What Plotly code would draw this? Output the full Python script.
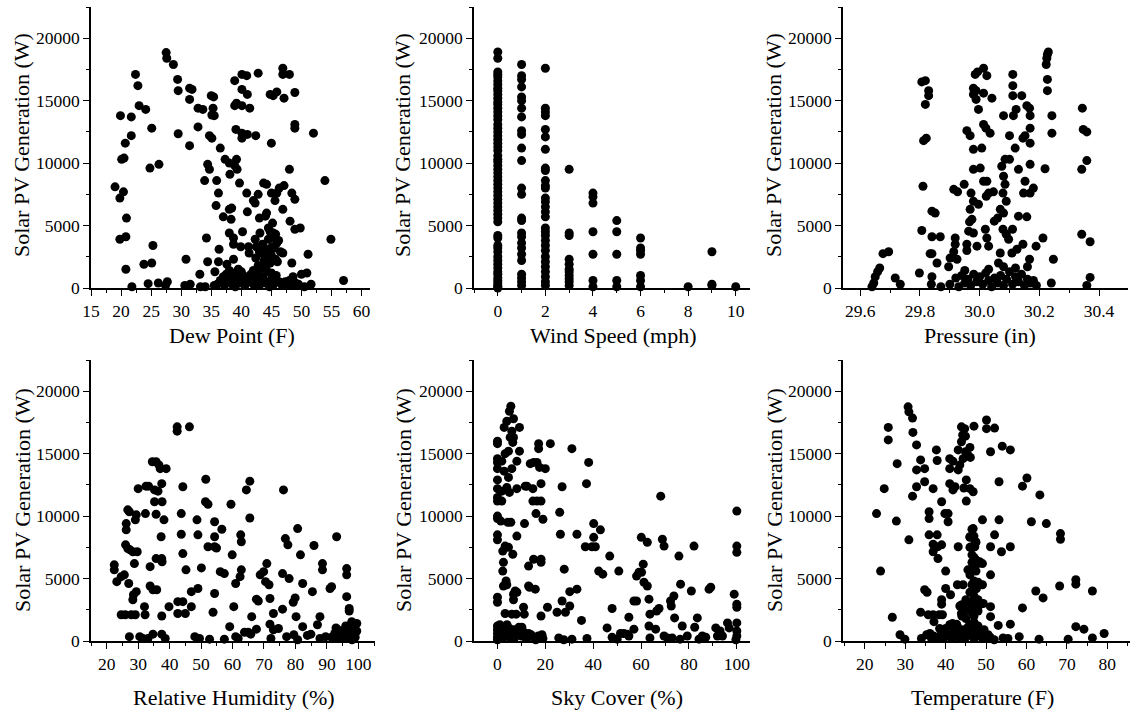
import plotly.graph_objects as go

# ---------------- Data ----------------
dew_x = [19.0, 19.9, 19.8, 20.4, 20.1, 20.5, 20.7, 19.8, 20.8, 20.9, 20.8, 21.8, 21.7, 21.7, 22.4, 22.8, 23.0,
         24.1, 23.8, 25.1, 24.8, 25.3, 25.1, 24.5, 26.3, 26.2, 27.5, 27.6, 27.7, 27.4, 28.7, 29.4, 29.5, 29.5,
         30.8, 31.4, 31.8, 31.4, 31.4, 31.5, 30.6, 32.8, 32.8, 33.6, 33.1, 33.2, 33.9, 34.2, 34.4, 34.7, 34.7,
         35.1, 35.0, 35.4, 35.3, 35.1, 35.5, 34.4, 35.8, 35.6, 35.9, 36.2, 36.3, 36.5, 36.2, 37.3, 37.0, 37.6,
         38.0, 38.0, 38.4, 38.1, 38.3, 38.0, 38.7, 38.9, 38.9, 39.2, 39.1, 39.2, 39.3, 38.9, 38.7, 38.7, 39.7,
         39.5, 39.9, 40.1, 40.1, 40.1, 40.1, 40.1, 40.2, 40.9, 41.0, 40.9, 41.0, 41.0, 41.4, 41.2, 41.3, 42.0,
         42.3, 42.4, 42.8, 42.8, 42.3, 42.4, 43.0, 43.1, 43.2, 43.7, 44.2, 44.0, 44.2, 44.5, 44.5, 43.7, 44.2,
         44.8, 45.0, 45.0, 45.6, 45.3, 45.9, 45.9, 46.3, 45.3, 45.6, 45.9, 45.1, 44.8, 45.7, 45.0, 46.9, 46.9,
         47.1, 47.1, 46.9, 46.9, 47.3, 48.0, 48.0, 48.1, 48.4, 48.9, 48.9, 48.9, 48.9, 48.4, 48.9, 49.8, 48.6,
         50.0, 50.9, 51.1, 52.0, 51.6, 53.9, 54.9, 57.0,
         36.0, 36.5, 37.0, 37.2, 37.5, 37.8, 38.2, 38.5, 38.8, 39.0, 39.5, 40.0, 40.3, 40.6, 41.0, 41.3, 41.6,
         42.0, 42.3, 42.6, 43.0, 43.3, 43.6, 44.0, 44.3, 44.7, 45.0, 45.4, 45.8, 46.3, 46.8, 47.5, 48.0, 48.5,
         49.0, 49.5, 50.5, 35.5, 34.0, 38.0, 40.0, 42.0, 44.0, 43.0,
         42.5, 43.0, 43.5, 44.0, 44.5, 45.0, 45.5, 46.0, 44.3, 43.8, 42.8, 46.5, 45.2, 44.8, 45.7, 46.2]
dew_pv = [8100, 13800, 7200, 7700, 10300, 10400, 11600, 3900, 4100, 5600, 1500, 100, 13700, 12200, 17100, 16200, 14600,
          14300, 1900, 12800, 9600, 3400, 2000, 350, 9900, 400, 18850, 18400, 500, 200, 17900, 16700, 15800, 12350,
          2300, 16000, 15900, 15100, 11400, 300, 200, 14400, 12900, 14300, 1100, 100, 8600, 4000, 9900, 9500, 12200,
          12000, 15400, 15300, 14400, 13850, 13800, 2100, 6600, 1300, 8600, 7600, 3100, 11200, 2100, 10300, 5700, 1900,
          10000, 6300, 6400, 9100, 5500, 4400, 4000, 16600, 14600, 14800, 12700, 10300, 9500, 9800, 2300, 3500, 8400,
          1500, 3300, 17100, 15900, 14600, 12400, 12000, 4500, 7600, 6100, 17000, 15500, 12300, 14400, 3300, 2800, 7000,
          6800, 12200, 17200, 7500, 3900, 2400, 5600, 4400, 2800, 8400, 8300, 5750, 6000, 4800, 3900, 3300, 2800,
          15500, 11600, 7600, 7000, 15400, 15700, 7600, 8000, 4400, 4000, 3600, 3300, 2000, 2300, 1200, 17600, 17100,
          15200, 8200, 6300, 2800, 500, 17100, 9500, 5350, 7600, 7100, 15650, 13100, 12800, 2000, 4700, 4800, 900,
          1100, 1200, 2700, 12400, 300, 8600, 3900, 600,
          300, 600, 900, 200, 1100, 500, 800, 300, 1200, 100, 700, 400, 1000, 200, 800, 500, 1100,
          300, 700, 1000, 200, 600, 900, 400, 1300, 100, 700, 300, 1000, 500, 200, 300, 600, 200,
          400, 300, 100, 200, 100, 1400, 1300, 1400, 1600, 1500,
          3300, 2900, 3500, 2500, 3000, 2600, 3200, 2100, 1900, 2200, 1800, 2900, 5200, 4500, 4300, 3800]

wind_x = [0] * 61 + [1] * 26 + [2] * 30 + [3] * 11 + [4] * 7 + [5] * 5 + [6] * 7 + [8] + [9] * 3 + [10]
wind_pv = [18900, 18400, 17300, 17100, 16900, 16600, 16300, 16000, 15800, 15500, 15200, 14900, 14700, 14400, 14100,
           13800, 13500, 13100, 12800, 12500, 12200, 11900, 11600, 11300, 11000, 10600, 10300, 10100, 9800, 9500,
           9200, 8900, 8600, 8300, 8000, 7700, 7400, 7100, 6800, 6500, 6200, 5900, 5600, 5300, 4200, 4000, 3400,
           3200, 2900, 2500, 2200, 1900, 1600, 1300, 1100, 800, 600, 400, 200, 100, 0,
           17900, 17000, 16700, 16100, 15300, 15000, 14400, 13700, 12600, 12300, 11200, 10200, 8000, 7500, 5600,
           5400, 4400, 4100, 3600, 3200, 2700, 2200, 1100, 800, 500, 200,
           17600, 14400, 14100, 13800, 12700, 12100, 11100, 9600, 9400, 8600, 8200, 8000, 7200, 6900, 6500, 6100,
           5700, 4800, 4500, 4200, 3800, 3400, 3000, 2500, 2100, 1700, 1300, 900, 500, 200,
           9500, 4400, 4200, 2300, 1900, 1500, 1300, 1000, 750, 500, 200,
           7600, 7300, 6800, 4500, 2700, 600, 100,
           5400, 4500, 2700, 600, 100,
           4000, 3200, 3000, 2700, 1000, 600, 100,
           100,
           2900, 300, 200,
           100]

press_x = [29.639, 29.645, 29.650, 29.658, 29.665, 29.676, 29.695, 29.717, 29.734, 29.798, 29.806, 29.818, 29.818,
           29.812, 29.821, 29.810, 29.806, 29.829, 29.829, 29.834, 29.840, 29.840, 29.851, 29.840, 29.840, 29.838,
           29.857, 29.868, 29.870, 29.913, 29.926, 29.948, 29.918, 29.918, 29.913, 29.901, 29.896, 29.924, 29.957,
           29.968, 29.979, 29.979, 29.988, 29.988, 29.996, 29.985, 29.993, 30.013, 30.024, 30.013, 30.041, 30.013,
           30.021, 30.035, 29.979, 30.007, 29.979, 30.002, 29.971, 29.979, 29.996, 29.968, 29.974, 29.966, 29.963,
           29.979, 29.991, 29.957, 29.957, 30.013, 30.024, 30.030, 30.046, 30.022, 30.019, 30.024, 30.030, 30.049,
           30.060, 30.069, 30.074, 30.080, 30.085, 30.100, 30.080, 30.085, 30.078, 30.089, 30.080, 30.078, 30.089,
           30.097, 30.069, 30.063, 30.100, 30.111, 30.111, 30.111, 30.113, 30.122, 30.119, 30.130, 30.110, 30.108,
           30.125, 30.130, 30.141, 30.145, 30.152, 30.152, 30.147, 30.145, 30.158, 30.158, 30.167, 30.169, 30.169,
           30.169, 30.169, 30.169, 30.167, 30.160, 30.180, 30.189, 30.212, 30.223, 30.227, 30.230, 30.225, 30.227,
           30.227, 30.219, 30.242, 30.242, 30.247, 30.240, 30.344, 30.347, 30.359, 30.359, 30.342, 30.342, 30.370,
           30.370, 30.359,
           29.90, 29.92, 29.93, 29.94, 29.95, 29.96, 29.97, 29.98, 29.99, 30.00, 30.01, 30.02, 30.03, 30.04, 30.05,
           30.06, 30.07, 30.08, 30.09, 30.10, 30.11, 30.12, 30.13, 30.14, 30.15, 30.16, 30.17, 30.18, 30.19, 29.95,
           30.03, 30.12, 30.08]
press_pv = [100, 400, 900, 1300, 1600, 2750, 2900, 800, 300, 1200, 16500, 16600, 14700, 11800, 12000, 8150, 4600,
            15800, 15400, 2750, 2750, 6150, 6000, 4100, 900, 300, 2000, 4100, 100, 7900, 7700, 8300, 4000, 3500,
            2900, 2400, 1700, 2300, 12600, 12200, 16000, 15500, 15800, 15100, 14300, 17100, 17300, 17600, 17000,
            15600, 15200, 13100, 12800, 12400, 11100, 11200, 9500, 9600, 7600, 6950, 6700, 6300, 5500, 5300, 4550,
            4400, 3350, 3500, 3000, 8550, 8550, 7600, 7700, 7350, 4700, 4000, 3350, 5350, 5600, 6300, 9750, 13800,
            10300, 10300, 8950, 8300, 7600, 6950, 6000, 4700, 4300, 3900, 2800, 2000, 12200, 17100, 16200, 15400,
            13800, 14300, 11200, 9500, 4700, 2800, 3100, 5750, 15400, 12000, 12200, 8550, 7600, 3500, 5700, 14600,
            14400, 13800, 12800, 11600, 9900, 7600, 2300, 1700, 8000, 3350, 4000, 17900, 18700, 18900, 18400, 16700,
            15800, 9550, 13800, 12400, 2300, 400, 14400, 12700, 12500, 10200, 9500, 4300, 3700, 850, 200,
            300, 800, 100, 1000, 400, 700, 200, 1100, 500, 900, 300, 1200, 600, 100, 800,
            400, 1000, 200, 700, 1300, 300, 900, 500, 1100, 200, 700, 400, 600, 200, 1400,
            1500, 1600, 1700]

rh_x = [22.4, 22.4, 23.2, 24.6, 25.6, 24.6, 25.9, 26.2, 26.2, 26.7, 27.2, 26.0, 26.7, 27.4, 27.0, 27.2, 27.8, 28.3,
        28.8, 28.5, 28.3, 29.4, 29.4, 29.1, 29.7, 29.1, 30.0, 30.5, 31.5, 32.3, 32.5, 33.3, 32.0, 32.2, 33.1, 33.8,
        33.8, 34.7, 34.5, 34.7, 35.2, 35.2, 35.7, 35.7, 35.7, 35.9, 36.3, 36.6, 37.0, 37.5, 37.6, 37.3, 37.5, 37.6,
        37.5, 37.5, 38.2, 38.9, 38.6, 39.8, 42.6, 42.6, 42.4, 42.4, 43.7, 43.7, 44.2, 44.2, 44.2, 45.0, 45.2, 46.3,
        46.9, 46.9, 48.0, 48.7, 49.0, 49.0, 49.5, 50.1, 51.5, 51.4, 52.2, 52.2, 52.7, 54.3, 54.3, 54.3, 54.9, 54.3,
        53.8, 56.1, 56.6, 57.4, 57.4, 59.1, 59.5, 59.9, 60.4, 61.0, 61.0, 62.4, 62.6, 62.8, 62.8, 61.8, 64.4, 65.5,
        65.5, 63.8, 65.0, 66.1, 65.8, 67.6, 68.2, 67.6, 68.8, 69.9, 70.9, 70.5, 71.6, 71.9, 71.9, 72.2, 73.0, 73.0,
        74.6, 75.9, 76.2, 75.9, 76.8, 77.6, 78.0, 77.2, 79.5, 79.3, 79.9, 80.2, 80.7, 81.6, 82.3, 82.3, 80.7, 83.8,
        84.9, 85.4, 85.9, 87.0, 87.8, 88.6, 88.6, 87.8, 89.6, 91.0, 91.5, 93.1, 92.9, 96.3, 96.3, 96.3, 97.1, 97.1,
        97.9, 99.5,
        92.5, 93.0, 93.5, 94.0, 94.5, 95.0, 95.5, 96.0, 96.5, 97.0, 97.5, 98.0, 98.5, 99.0, 99.5, 91.5, 96.0, 98.0]
rh_pv = [6100, 5700, 4750, 5150, 5300, 2100, 2100, 8900, 9400, 10500, 10350, 7700, 7400, 7300, 4600, 350, 2100, 7150,
         6200, 3700, 3300, 3950, 10100, 9700, 7150, 2100, 12200, 350, 200, 10200, 12400, 12400, 2750, 2100, 200, 5950,
         4400, 4100, 14350, 550, 12100, 11150, 14350, 10150, 6600, 4100, 12000, 14100, 13800, 12600, 11150, 8350, 6600,
         6350, 2000, 550, 9700, 13800, 200, 2750, 3150, 2200, 17150, 16800, 10200, 8550, 12350, 7000, 3150, 2200, 5700,
         17150, 3950, 2750, 350, 9700, 8500, 4200, 200, 5850, 12950, 11150, 10950, 7550, 150, 9550, 8350, 7550, 7450,
         3800, 2300, 5550, 8950, 5400, 150, 1150, 10950, 6900, 2750, 4600, 350, 5150, 8500, 7950, 5700, 200, 12100,
         12800, 9850, 700, 700, 1950, 550, 3350, 3200, 950, 5300, 5550, 6200, 4750, 4500, 3400, 1350, 200, 2200, 900,
         1000, 2550, 12100, 5400, 8200, 7700, 5000, 350, 500, 3100, 3450, 1950, 9000, 6900, 4600, 1150, 100, 450,
         550, 3950, 7650, 1300, 1950, 6200, 5700, 200, 350, 4200, 4350, 8350, 1050, 5800, 5300, 3550, 2600, 2400,
         1550, 1400,
         600, 300, 900, 500, 200, 800, 400, 1000, 600, 200, 900, 500, 1200, 300, 800, 300, 1200, 100]

sky_x = [1.4, 2.2, 2.5, 2.2, 2.5, 3.6, 3.9, 3.2, 1.8, 1.8, 2.8, 1.8, 3.2, 4.6, 2.8, 3.9, 5.0, 5.6, 5.3, 6.0, 6.7,
         6.4, 6.0, 4.6, 3.9, 5.0, 3.2, 4.6, 5.6, 4.3, 6.4, 6.7, 7.4, 8.1, 6.7, 6.0, 7.8, 8.1, 8.1, 8.1, 9.2, 9.2,
         6.7, 10.2, 10.9, 11.2, 11.3, 11.6, 12.3, 13.0, 13.0, 13.4, 14.0, 13.7, 15.1, 14.8, 14.8, 15.1, 15.8, 16.1,
         16.5, 16.5, 17.2, 17.2, 17.6, 18.2, 18.2, 18.2, 18.2, 18.2, 18.6, 19.0, 20.0, 20.9, 22.1, 24.9, 25.6, 26.0,
         26.3, 27.0, 27.0, 27.7, 27.9, 28.4, 30.2, 30.2, 31.1, 31.1, 33.2, 33.2, 35.1, 36.7, 37.2, 37.4, 38.1, 39.5,
         40.2, 40.2, 40.9, 42.3, 43.0, 44.0, 45.8, 46.9, 47.9, 47.9, 50.0, 50.7, 51.4, 52.8, 54.2, 54.9, 54.9, 57.0,
         57.0, 58.1, 58.1, 59.1, 60.1, 60.2, 60.9, 61.2, 62.6, 62.6, 63.3, 63.3, 63.7, 63.7, 66.1, 66.5, 67.5, 68.2,
         68.9, 69.6, 69.6, 71.0, 72.3, 72.6, 73.0, 73.7, 74.0, 75.8, 76.3, 76.5, 77.2, 79.3, 81.0, 82.1, 82.4, 83.5,
         84.2, 85.6, 87.0, 88.4, 89.1, 91.2, 91.9, 93.0, 94.0, 96.1, 96.8, 98.9, 100, 100, 100, 100, 100, 100, 100,
         100, 99.6,
         0, 0, 0, 0, 0, 1, 1, 2, 2, 3, 3, 4, 5, 5, 6, 7, 7, 8, 9, 10, 11, 12, 13, 15, 16, 17, 19, 4, 1,
         0, 0, 0, 0, 0, 0, 0, 0, 0, 0, 0, 0, 0, 0, 0]
sky_pv = [9600, 7200, 6300, 5600, 4400, 4800, 4500, 2200, 11200, 12000, 13600, 14400, 15000, 15200, 17100, 17600,
          18400, 18800, 16300, 16800, 17800, 15900, 13800, 13100, 12300, 11900, 7600, 7500, 9500, 9500, 6950, 3300,
          4000, 3900, 3750, 2150, 2150, 8400, 12200, 14400, 15200, 17100, 16300, 1100, 2700, 2150, 9400, 12400, 12400,
          6000, 4400, 4300, 500, 14200, 14300, 12200, 11200, 6550, 4150, 10200, 11200, 14300, 15800, 15400, 13900,
          12600, 11200, 6550, 6300, 2000, 500, 9750, 13800, 2700, 15800, 2300, 250, 10300, 8550, 3200, 12350, 100,
          5750, 2300, 2800, 3950, 15400, 150, 4150, 8550, 1650, 7550, 12600, 200, 14300, 7550, 9400, 8300, 7550,
          5600, 8900, 5350, 1050, 6800, 2600, 300, 150, 5600, 600, 600, 550, 1900, 400, 950, 3200, 3200, 5200, 5500,
          8300, 5500, 6150, 4700, 4400, 7900, 3350, 1200, 2150, 250, 950, 2400, 2600, 11600, 8150, 7600, 400, 250,
          3200, 2800, 250, 3600, 1850, 6800, 150, 4550, 1200, 400, 4000, 7600, 1100, 1850, 150, 400, 300, 4150, 4300,
          1050, 400, 800, 400, 1450, 1050, 3750, 10400, 7600, 7100, 2950, 2700, 1450, 800, 400, 100,
          1200, 900, 600, 300, 100, 1000, 500, 800, 200, 1100, 400, 700, 1000, 300, 600, 900, 200, 500, 1100, 400,
          700, 200, 600, 300, 100, 400, 200, 1300, 1300,
          16000, 15800, 14600, 14300, 13800, 12900, 12200, 11500, 11200, 10000, 9800, 8500, 8100, 3500, 3100]

temp_x = [22.9, 23.9, 24.8, 25.8, 25.8, 26.8, 27.8, 28.0, 28.7, 29.9, 30.7, 30.9, 31.8, 31.9, 31.8, 30.9, 32.8, 32.8,
          32.8, 33.8, 33.8, 34.0, 34.8, 34.8, 34.8, 35.4, 35.3, 35.9, 35.9, 35.9, 35.7, 36.1, 36.9, 36.9, 36.9, 36.9,
          37.1, 37.3, 37.7, 37.9, 37.9, 38.0, 38.1, 38.4, 39.0, 39.0, 39.0, 39.2, 39.0, 39.8, 40.0, 40.0, 40.6, 40.6,
          41.0, 41.0, 41.2, 41.0, 41.8, 41.8, 42.3, 42.9, 43.1, 42.7, 43.1, 43.1, 43.5, 43.9, 43.9, 44.2, 44.3, 44.5,
          44.7, 44.9, 44.9, 45.1, 45.1, 45.5, 46.0, 46.1, 46.0, 46.8, 47.0, 46.8, 46.0, 46.4, 47.4, 47.2, 49.1, 50.1,
          50.1, 51.1, 51.1, 51.1, 51.1, 51.1, 52.1, 52.1, 53.0, 53.2, 53.2, 53.8, 54.0, 54.2, 55.4, 56.0, 56.0, 56.0,
          58.2, 59.0, 59.0, 60.1, 61.2, 62.3, 63.1, 63.3, 64.1, 64.9, 68.2, 68.4, 68.4, 70.3, 72.2, 72.2, 72.2, 74.2,
          76.3, 76.3, 79.2,
          44.3, 43.9, 43.9, 44.7, 46.0, 46.4, 47.6, 48.4, 49.1, 49.1, 48.4, 49.3,
          46.5, 47.0, 46.0, 47.5, 46.0, 46.5, 47.0, 47.5, 48.0, 46.5, 45.5, 47.0, 46.0, 47.5, 47.0, 46.5, 47.5, 48.0,
          46.0, 47.0, 48.0, 46.5, 47.5, 45.5, 46.5, 47.0, 48.0, 45.0, 47.0, 46.0, 48.0, 44.5, 44.0, 45.0, 43.5, 44.0,
          38.0, 39.0, 39.5, 40.0, 40.5, 41.0, 41.5, 42.0, 42.5, 43.0, 43.5, 44.0, 44.5, 45.0, 45.5, 46.0, 46.5, 47.0,
          47.5, 48.0, 48.5, 49.0, 49.5, 50.0, 50.5, 51.0, 52.0, 41.7, 37.0, 36.5, 38.5]
temp_pv = [10200, 5600, 12200, 17100, 16100, 1900, 9600, 14200, 500, 150, 18750, 18350, 17850, 16700, 11600, 8100,
           15700, 13700, 12350, 2300, 14500, 200, 12750, 13800, 4100, 3900, 500, 10350, 9800, 8500, 2100, 600, 12200,
           7750, 7150, 2100, 1550, 200, 15300, 14450, 8500, 7550, 6600, 2100, 7700, 3300, 2950, 2100, 11150, 10200,
           5600, 4200, 10200, 9550, 14600, 13800, 3700, 12600, 12100, 14400, 12350, 4500, 7550, 1350, 15300, 13700,
           14100, 17150, 15950, 16500, 14600, 12250, 17000, 16400, 15150, 12900, 11200, 14900, 15500, 14700, 12200,
           11950, 17200, 9000, 8350, 7550, 7950, 7550, 9700, 17700, 17000, 15150, 7550, 5300, 2750, 1950, 17050, 8500,
           1250, 9700, 12750, 7150, 15600, 250, 200, 15300, 7550, 1350, 350, 12400, 2650, 13050, 9550, 4000, 150,
           11700, 3450, 9400, 4400, 8600, 8150, 150, 4900, 4550, 1150, 950, 4000, 250, 600,
           4500, 2200, 2750, 2900, 5700, 3000, 4200, 6350, 6200, 4500, 2900, 3000,
           8950, 8400, 8300, 7900, 7500, 6900, 6700, 6500, 6200, 6300, 5700, 5900, 5300, 5600, 4800, 4500, 4200, 4700,
           3900, 3600, 3300, 3100, 2900, 2600, 2300, 2000, 2400, 1800, 1500, 1300, 1200, 2300, 2000, 3300, 2800, 2900,
           300, 700, 200, 1000, 500, 1300, 200, 800, 400, 1100, 200, 600, 900, 300, 1100, 500, 800, 200,
           1000, 400, 700, 300, 900, 200, 500, 300, 100, 1400, 400, 200, 1000]

pv_ticks = [0, 5000, 10000, 15000, 20000]
pv_tick_labels = ["0", "5000", "10000", "15000", "20000"]

# ---------------- Layout configuration ----------------
W, H = 1133, 712
FONT = "Liberation Serif"

panels = [
    # x, y, x title, x range, major dtick, minor dtick, tick format, (left,right,top,bottom) px, xtitle pos, ytitle pos
    (dew_x, dew_pv, "Dew Point (F)", [15, 61.4], 5, 2.5, "d", (91, 370, 7, 288), (232, 335), (22, 145)),
    (wind_x, wind_pv, "Wind Speed (mph)", [-1, 10.6], 2, 1, "d", (474, 750, 7, 288), (613, 335), (403, 145)),
    (press_x, press_pv, "Pressure (in)", [29.542, 30.497], 0.2, 0.1, ".1f", (843, 1128, 7, 288), (980, 335), (774, 145)),
    (rh_x, rh_pv, "Relative Humidity (%)", [15, 105.3], 10, 5, "d", (91, 375, 360, 641), (234, 697), (22, 500)),
    (sky_x, sky_pv, "Sky Cover (%)", [-9.8, 105.5], 20, 10, "d", (474, 750, 360, 641), (617, 697), (403, 500)),
    (temp_x, temp_pv, "Temperature (F)", [14.6, 85.6], 10, 5, "d", (843, 1130, 360, 641), (982, 697), (774, 500)),
]

fig = go.Figure()
annotations = []
for i, (xs, ys, xt, xr, dt, mdt, fmt, box, xtp, ytp) in enumerate(panels):
    n = "" if i == 0 else str(i + 1)
    L, R, T, B = box
    fig.add_trace(go.Scatter(
        x=xs, y=ys, mode="markers", xaxis="x" + n, yaxis="y" + n,
        marker=dict(color="black", size=9, line=dict(width=0)),
        cliponaxis=False, showlegend=False, hoverinfo="x+y"))
    common = dict(showgrid=False, zeroline=False, showline=True, linecolor="black", linewidth=1.6,
                  ticks="outside", ticklen=6, tickwidth=1.4, tickcolor="black", automargin=False,
                  tickfont=dict(family=FONT, size=17.5, color="black"))
    fig.layout["xaxis" + n] = dict(
        common, domain=[L / W, R / W], anchor="y" + n, range=xr, dtick=dt, tickformat=fmt,
        tick0=0, minor=dict(dtick=mdt, tick0=0, ticks="outside", ticklen=3.5, tickwidth=1.4, tickcolor="black"))
    fig.layout["yaxis" + n] = dict(
        common, domain=[1 - B / H, 1 - T / H], anchor="x" + n, range=[0, 22500],
        tickmode="array", tickvals=pv_ticks, ticktext=pv_tick_labels,
        minor=dict(dtick=2500, tick0=0, ticks="outside", ticklen=3.5, tickwidth=1.4, tickcolor="black"))
    annotations.append(dict(text=xt, x=xtp[0] / W, y=1 - xtp[1] / H, xref="paper", yref="paper",
                            showarrow=False, xanchor="center", yanchor="middle",
                            font=dict(family=FONT, size=22, color="black")))
    annotations.append(dict(text="Solar PV Generation (W)", x=ytp[0] / W, y=1 - ytp[1] / H,
                            xref="paper", yref="paper", showarrow=False, textangle=-90,
                            xanchor="center", yanchor="middle",
                            font=dict(family=FONT, size=22, color="black")))

fig.update_layout(template="none", width=W, height=H, margin=dict(l=0, r=0, t=0, b=0, pad=0),
                  paper_bgcolor="white", plot_bgcolor="white", annotations=annotations,
                  font=dict(family=FONT, color="black"))

fig.write_html("out.html", config={"displayModeBar": False},
               post_script="document.body.style.margin='0';document.body.style.overflow='hidden';")
